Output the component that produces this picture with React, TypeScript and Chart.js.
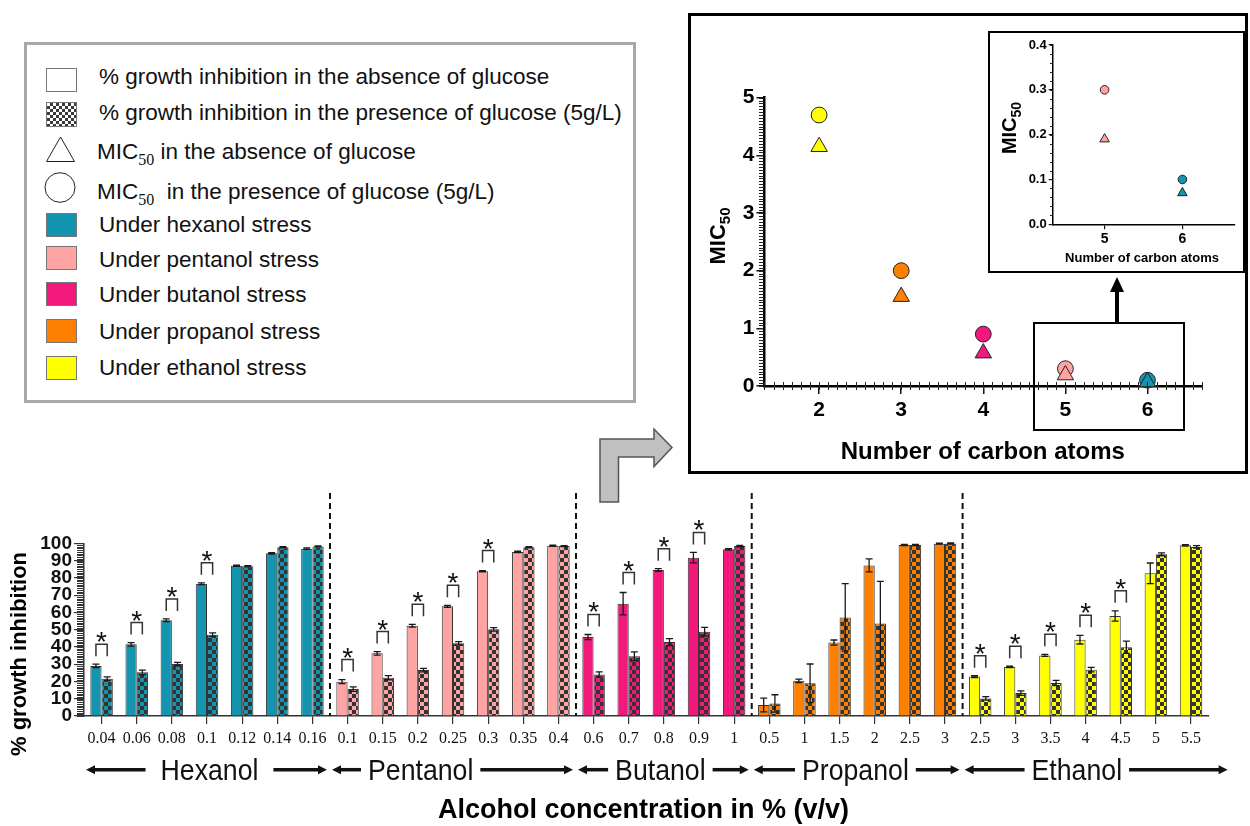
import React, { useEffect, useRef } from 'react';
import { Chart, registerables } from 'chart.js';

Chart.register(...registerables);

const SANS = "'Liberation Sans', Arial, sans-serif";
const SERIF = "'Liberation Serif', 'Times New Roman', serif";

// ---------- Bar chart data ----------
const groupNames = ['Hexanol', 'Pentanol', 'Butanol', 'Propanol', 'Ethanol'];
const groupSizes = [7, 7, 5, 6, 7];
const groupColors = ['#1395B0', '#FFA3A3', '#F2187C', '#FF8000', '#FFFF00'];
const concentrations = [
  '0.04', '0.06', '0.08', '0.1', '0.12', '0.14', '0.16',
  '0.1', '0.15', '0.2', '0.25', '0.3', '0.35', '0.4',
  '0.6', '0.7', '0.8', '0.9', '1',
  '0.5', '1', '1.5', '2', '2.5', '3',
  '2.5', '3', '3.5', '4', '4.5', '5', '5.5',
];
const inhibitionNoGlucose = [
  29, 41.5, 55.4, 76.6, 87, 94.2, 96.9,
  19.9, 36.3, 52.3, 63.5, 83.8, 95, 98.6,
  45.7, 65, 84.5, 91.7, 96.5,
  6.4, 20.4, 42.5, 87.2, 99, 99.8,
  22.8, 28.4, 35.1, 44.2, 57.9, 82.6, 98.8,
];
const errNoGlucose = [
  1, 1, 0.8, 0.5, 0.4, 0.4, 0.4,
  1.2, 1, 0.8, 0.6, 0.4, 0.4, 0.3,
  1.5, 6.5, 0.8, 3, 0.4,
  4, 1, 1.5, 3.8, 0.3, 0.3,
  0.5, 0.4, 0.6, 2.5, 3, 6, 0.4,
];
const inhibitionGlucose = [
  21.6, 25.3, 30.1, 47.1, 86.7, 97.7, 98.2,
  15.6, 22.2, 26.6, 42.1, 50.2, 97.7, 98.4,
  24.1, 34.6, 42.8, 48.8, 98.4,
  7.3, 18.9, 57.1, 53.5, 99, 99.9,
  10.2, 13.3, 19.1, 26.8, 39.8, 93.6, 97.9,
];
const errGlucose = [
  1, 1.3, 1, 1, 0.4, 0.3, 0.3,
  1.3, 1.2, 1, 1, 1, 0.3, 0.3,
  1.5, 2.5, 2, 2.5, 0.4,
  5, 11.2, 19.5, 24.5, 0.3, 0.3,
  1, 1.3, 1.5, 1.3, 3.5, 0.8, 0.7,
];
const significant = [
  1, 1, 1, 1, 0, 0, 0,
  1, 1, 1, 1, 1, 0, 0,
  1, 1, 1, 1, 0,
  0, 0, 0, 0, 0, 0,
  1, 1, 1, 1, 1, 0, 0,
];

// ---------- MIC50 data ----------
const carbonAtoms = [2, 3, 4, 5, 6];
const micNoGlucose = [4.15, 1.55, 0.57, 0.19, 0.07];
const micGlucose = [4.7, 2.0, 0.9, 0.3, 0.1];
const micColors = ['#FFFF00', '#FF8000', '#F2187C', '#FFA3A3', '#1395B0'];
const micYTicks = [0, 1, 2, 3, 4, 5];
const insetCarbonAtoms = [5, 6];
const insetNoGlucose = [0.19, 0.07];
const insetGlucose = [0.3, 0.1];
const insetColors = ['#FFA3A3', '#1395B0'];
const insetYTicks = [0, 0.1, 0.2, 0.3, 0.4];

// layout constant: where each group name sits, in category-index units
const groupLabelAt = [3.07, 9.08, 15.9, 21.45, 27.75];

function checker(color: string) {
  const c = document.createElement('canvas');
  c.width = 8;
  c.height = 8;
  const g = c.getContext('2d')!;
  g.fillStyle = color;
  g.fillRect(0, 0, 8, 8);
  g.fillStyle = '#333';
  g.fillRect(0, 0, 4, 4);
  g.fillRect(4, 4, 4, 4);
  return g.createPattern(c, 'repeat')!;
}

function hArrow(ctx: any, from: number, to: number, y: number) {
  const dir = Math.sign(to - from);
  const head = 9;
  ctx.lineWidth = 3.5;
  ctx.strokeStyle = '#111';
  ctx.fillStyle = '#111';
  ctx.beginPath();
  ctx.moveTo(from, y);
  ctx.lineTo(to - dir * head * 0.7, y);
  ctx.stroke();
  ctx.beginPath();
  ctx.moveTo(to, y);
  ctx.lineTo(to - dir * head, y - 4.5);
  ctx.lineTo(to - dir * head, y + 4.5);
  ctx.closePath();
  ctx.fill();
}

function drawMicTitle(ctx: any, cx: number, cy: number, big: number, small: number) {
  ctx.save();
  ctx.translate(cx, cy);
  ctx.rotate(-Math.PI / 2);
  ctx.fillStyle = '#000';
  ctx.textAlign = 'left';
  ctx.textBaseline = 'alphabetic';
  ctx.font = `bold ${big}px ${SANS}`;
  const w1 = ctx.measureText('MIC').width;
  ctx.font = `bold ${small}px ${SANS}`;
  const w2 = ctx.measureText('50').width;
  const total = w1 + w2;
  const base = big * 0.36;
  ctx.font = `bold ${big}px ${SANS}`;
  ctx.fillText('MIC', -total / 2, base);
  ctx.font = `bold ${small}px ${SANS}`;
  ctx.fillText('50', -total / 2 + w1, base + small * 0.35);
  ctx.restore();
}

function minorY(ctx: any, ys: any, left: number, from: number, to: number, step: number, len: number, color: string) {
  ctx.fillStyle = color;
  const n = Math.round((to - from) / step);
  for (let k = 0; k <= n; k++) {
    const py = Math.round(ys.getPixelForValue(from + k * step));
    ctx.fillRect(Math.round(left) - len, py, len, 1);
  }
}

const barDecor = {
  id: 'barDecor',
  afterDatasetsDraw(chart: any) {
    const { ctx } = chart;
    const ys = chart.scales.y;
    const m0 = chart.getDatasetMeta(0);
    const m1 = chart.getDatasetMeta(1);
    ctx.save();
    ctx.strokeStyle = '#1a1a1a';
    ctx.lineWidth = 1.3;
    const sets: any[] = [
      [m0, inhibitionNoGlucose, errNoGlucose],
      [m1, inhibitionGlucose, errGlucose],
    ];
    sets.forEach(([m, vals, errs]) => {
      m.data.forEach((bar: any, i: number) => {
        const yt = ys.getPixelForValue(vals[i] + errs[i]);
        const yb = ys.getPixelForValue(Math.max(0, vals[i] - errs[i]));
        ctx.beginPath();
        ctx.moveTo(bar.x, yt);
        ctx.lineTo(bar.x, yb);
        ctx.moveTo(bar.x - 3.5, yt);
        ctx.lineTo(bar.x + 3.5, yt);
        ctx.moveTo(bar.x - 3.5, yb);
        ctx.lineTo(bar.x + 3.5, yb);
        ctx.stroke();
      });
    });
    ctx.lineWidth = 1.5;
    ctx.strokeStyle = '#333';
    ctx.font = `28px ${SANS}`;
    ctx.fillStyle = '#111';
    ctx.textAlign = 'center';
    ctx.textBaseline = 'alphabetic';
    const mt = ctx.measureText('*');
    significant.forEach((s, i) => {
      if (!s) return;
      const b0 = m0.data[i];
      const b1 = m1.data[i];
      const top =
        Math.min(
          ys.getPixelForValue(inhibitionNoGlucose[i] + errNoGlucose[i]),
          ys.getPixelForValue(inhibitionGlucose[i] + errGlucose[i])
        ) - 20;
      ctx.beginPath();
      ctx.moveTo(b0.x, top + 12);
      ctx.lineTo(b0.x, top);
      ctx.lineTo(b1.x, top);
      ctx.lineTo(b1.x, top + 12);
      ctx.stroke();
      const baseline = top - 2 - mt.actualBoundingBoxDescent;
      ctx.fillText('*', (b0.x + b1.x) / 2, baseline);
    });
    ctx.restore();
  },
  afterDraw(chart: any) {
    const { ctx, chartArea } = chart;
    const xs = chart.scales.x;
    const ys = chart.scales.y;
    ctx.save();
    minorY(ctx, ys, chartArea.left, 0, 100, 1, 7, '#333');
    ctx.strokeStyle = '#111';
    ctx.lineWidth = 2;
    ctx.setLineDash([6, 4]);
    let idx = 0;
    for (let g = 0; g < groupSizes.length - 1; g++) {
      idx += groupSizes[g];
      const px = (xs.getPixelForValue(idx - 1) + xs.getPixelForValue(idx)) / 2;
      ctx.beginPath();
      ctx.moveTo(px, 23);
      ctx.lineTo(px, chartArea.bottom);
      ctx.stroke();
    }
    ctx.setLineDash([]);
    const p0 = xs.getPixelForValue(0);
    const step = xs.getPixelForValue(1) - p0;
    const arrowY = 299.7;
    let start = 0;
    groupSizes.forEach((n, g) => {
      const Lb = p0 + (start - 0.5) * step;
      const Rb = p0 + (start + n - 0.5) * step + (g === groupSizes.length - 1 ? 22 : 0);
      const cx = p0 + groupLabelAt[g] * step;
      ctx.font = `29px ${SANS}`;
      const sx = 0.92;
      const w = ctx.measureText(groupNames[g]).width * sx;
      ctx.save();
      ctx.translate(cx, 310.3);
      ctx.scale(sx, 1);
      ctx.fillStyle = '#111';
      ctx.textAlign = 'center';
      ctx.textBaseline = 'alphabetic';
      ctx.fillText(groupNames[g], 0, 0);
      ctx.restore();
      const gap = g === 0 ? 15 : 7;
      hArrow(ctx, cx - w / 2 - gap, Lb + 2, arrowY);
      hArrow(ctx, cx + w / 2 + gap, Rb - 3, arrowY);
      start += n;
    });
    ctx.fillStyle = '#000';
    ctx.font = `bold 27px ${SANS}`;
    ctx.textAlign = 'center';
    ctx.textBaseline = 'middle';
    ctx.fillText('Alcohol concentration in % (v/v)', 643.5, 341);
    ctx.save();
    ctx.translate(20, 184);
    ctx.rotate(-Math.PI / 2);
    ctx.font = `bold 22px ${SANS}`;
    ctx.fillText('% growth inhibition', 0, 0);
    ctx.restore();
    ctx.restore();
  },
};

function micDecor(cfg: any) {
  return {
    id: 'micDecor',
    afterDraw(chart: any) {
      const { ctx, chartArea } = chart;
      const xs = chart.scales.x;
      const ys = chart.scales.y;
      ctx.save();
      minorY(ctx, ys, chartArea.left, ys.min, ys.max, cfg.yMinor, cfg.yMinorLen, '#222');
      if (cfg.xMinor) {
        ctx.fillStyle = '#222';
        const y0 = Math.round(chartArea.bottom);
        const pts: number[] = [];
        for (let v = carbonAtoms[0]; v >= xs.min - 1e-9; v -= cfg.xMinor) pts.push(v);
        for (let v = carbonAtoms[0] + cfg.xMinor; v <= xs.max + 1e-9; v += cfg.xMinor) pts.push(v);
        pts.forEach((v) => {
          const px = Math.round(xs.getPixelForValue(v));
          ctx.fillRect(px, y0 - 4, 1, 8);
        });
      }
      ctx.fillStyle = '#000';
      ctx.font = `bold ${cfg.xTitleSize}px ${SANS}`;
      ctx.textAlign = 'center';
      ctx.textBaseline = 'middle';
      ctx.fillText('Number of carbon atoms', cfg.xTitleX, cfg.xTitleY);
      if (cfg.yBig) drawMicTitle(ctx, cfg.yTitleX, cfg.yTitleY, cfg.yBig, cfg.ySmall);
      ctx.restore();
    },
  };
}

function micChart(
  canvas: HTMLCanvasElement,
  xs: number[],
  tri: number[],
  circ: number[],
  colors: string[],
  yTicks: number[],
  o: any
) {
  return new Chart(canvas, {
    type: 'scatter',
    data: {
      datasets: [
        {
          data: xs.map((x, i) => ({ x, y: tri[i] })),
          pointStyle: 'triangle',
          pointRadius: o.triR,
          pointHoverRadius: o.triR,
          backgroundColor: colors,
          borderColor: '#222',
          borderWidth: 1,
          clip: false,
        } as any,
        {
          data: xs.map((x, i) => ({ x, y: circ[i] })),
          pointStyle: 'circle',
          pointRadius: o.circR,
          pointHoverRadius: o.circR,
          backgroundColor: colors,
          borderColor: '#222',
          borderWidth: 1,
          clip: false,
        } as any,
      ],
    },
    options: {
      animation: false,
      responsive: false,
      devicePixelRatio: 1,
      events: [],
      layout: { padding: { left: 0, right: o.padRight, top: o.padTop, bottom: 0 } },
      plugins: { legend: { display: false }, tooltip: { enabled: false } },
      scales: {
        x: {
          type: 'linear',
          min: o.xMin,
          max: o.xMax,
          afterBuildTicks: (s: any) => {
            s.ticks = xs.map((v) => ({ value: v }));
          },
          afterFit: (s: any) => {
            s.height = o.xHeight;
          },
          grid: { drawOnChartArea: false, drawTicks: true, tickLength: o.xTick, color: '#111', lineWidth: o.tickW },
          border: { display: true, color: '#000', width: o.axisW },
          ticks: { font: { family: SANS, size: o.xFont, weight: 'bold' }, color: '#000', padding: o.xPad, maxRotation: 0, autoSkip: false },
        },
        y: {
          type: 'linear',
          min: yTicks[0],
          max: yTicks[yTicks.length - 1],
          afterBuildTicks: (s: any) => {
            s.ticks = yTicks.map((v) => ({ value: v }));
          },
          afterFit: (s: any) => {
            s.width = o.yWidth;
          },
          grid: { drawOnChartArea: false, drawTicks: true, tickLength: o.yTick, color: '#111', lineWidth: o.tickW },
          border: { display: true, color: '#000', width: o.axisW },
          ticks: {
            autoSkip: false,
            font: { family: SANS, size: o.yFont, weight: 'bold', lineHeight: 1 },
            color: '#000',
            padding: 2,
            callback: (v: any) => Number(v).toFixed(o.yDecimals),
          },
        },
      },
    } as any,
    plugins: [micDecor(o.decor)],
  });
}

export default function App() {
  const barRef = useRef<HTMLCanvasElement>(null);
  const micRef = useRef<HTMLCanvasElement>(null);
  const insetRef = useRef<HTMLCanvasElement>(null);

  useEffect(() => {
    const charts: Chart[] = [];
    const groupOfBar: number[] = [];
    groupSizes.forEach((n, g) => {
      for (let k = 0; k < n; k++) groupOfBar.push(g);
    });
    const pats = groupColors.map((c) => checker(c));

    if (barRef.current) {
      charts.push(
        new Chart(barRef.current, {
          type: 'bar',
          data: {
            labels: concentrations,
            datasets: [
              {
                label: '% growth inhibition in the absence of glucose',
                data: inhibitionNoGlucose,
                backgroundColor: groupOfBar.map((g) => groupColors[g]),
                borderColor: '#333',
                borderWidth: 1,
                categoryPercentage: 0.64,
                barPercentage: 1,
              } as any,
              {
                label: '% growth inhibition in the presence of glucose (5g/L)',
                data: inhibitionGlucose,
                backgroundColor: groupOfBar.map((g) => pats[g]),
                borderColor: '#333',
                borderWidth: 1,
                categoryPercentage: 0.64,
                barPercentage: 1,
              } as any,
            ],
          },
          options: {
            animation: false,
            responsive: false,
            devicePixelRatio: 1,
            events: [],
            layout: { padding: { left: 0, right: 41.4, top: 73.3, bottom: 0 } },
            plugins: { legend: { display: false }, tooltip: { enabled: false } },
            scales: {
              x: {
                afterFit: (s: any) => {
                  s.height = 110;
                },
                grid: { display: true, drawOnChartArea: false, drawTicks: true, tickLength: 8, offset: false, color: '#333', lineWidth: 1.2 },
                border: { display: true, color: '#333', width: 1.5 },
                ticks: { font: { family: SERIF, size: 16 }, color: '#111', maxRotation: 0, minRotation: 0, autoSkip: false, padding: 5 },
              },
              y: {
                min: 0,
                max: 100,
                afterFit: (s: any) => {
                  s.width = 84;
                },
                grid: { drawOnChartArea: false, drawTicks: true, tickLength: 10, color: '#333', lineWidth: 1.2 },
                border: { display: true, color: '#333', width: 1.5 },
                ticks: {
                  stepSize: 10,
                  autoSkip: false,
                  font: { family: SANS, size: 19, weight: 'bold', lineHeight: 1 },
                  color: '#111',
                  padding: 2,
                },
              },
            },
          } as any,
          plugins: [barDecor],
        })
      );
    }

    if (micRef.current) {
      charts.push(
        micChart(micRef.current, carbonAtoms, micNoGlucose, micGlucose, micColors, micYTicks, {
          triR: 9.5,
          circR: 7.9,
          padRight: 42.8,
          padTop: 81.7,
          xMin: 4 / 3,
          xMax: 20 / 3,
          xHeight: 85,
          xTick: 8,
          xFont: 21,
          xPad: 4,
          yWidth: 73.4,
          yTick: 8,
          yFont: 21,
          yDecimals: 0,
          tickW: 1.5,
          axisW: 2.5,
          decor: {
            yMinor: 0.05,
            yMinorLen: 5,
            xMinor: 1 / 9,
            xTitleSize: 24,
            xTitleX: 291.8,
            xTitleY: 436,
            yBig: 0,
          },
        })
      );
    }

    if (insetRef.current) {
      charts.push(
        micChart(insetRef.current, insetCarbonAtoms, insetNoGlucose, insetGlucose, insetColors, insetYTicks, {
          triR: 5.5,
          circR: 4.3,
          padRight: 8.7,
          padTop: 12,
          xMin: 13 / 3,
          xMax: 20 / 3,
          xHeight: 46.7,
          xTick: 5,
          xFont: 14,
          xPad: 1,
          yWidth: 62.7,
          yTick: 4,
          yFont: 13,
          yDecimals: 1,
          tickW: 1.2,
          axisW: 1.5,
          decor: {
            yMinor: 0.02,
            yMinorLen: 3,
            xMinor: 0,
            xTitleSize: 13,
            xTitleX: 152,
            xTitleY: 225.5,
            yTitleX: 19,
            yTitleY: 95,
            yBig: 20,
            ySmall: 14,
          },
        })
      );
    }

    return () => charts.forEach((c) => c.destroy());
  }, []);

  const legendText: React.CSSProperties = {
    position: 'absolute',
    fontFamily: SANS,
    fontSize: 22.5,
    lineHeight: '26px',
    color: '#111',
    whiteSpace: 'nowrap',
  };
  const sub: React.CSSProperties = {
    fontFamily: SERIF,
    fontSize: 16,
    position: 'relative',
    top: 6,
  };
  const swatch = (top: number, bg: string) => (
    <div
      style={{
        position: 'absolute',
        left: 46,
        top,
        width: 31,
        height: 24,
        background: bg,
        border: '1px solid #777',
        boxSizing: 'border-box',
      }}
    />
  );

  return (
    <div
      style={{
        position: 'absolute',
        left: 0,
        top: 0,
        width: 1250,
        height: 826,
        background: '#fff',
        overflow: 'hidden',
      }}
    >
      {/* MIC50 panel */}
      <div
        style={{
          position: 'absolute',
          left: 688,
          top: 13,
          width: 560,
          height: 461,
          border: '3px solid #000',
          boxSizing: 'border-box',
        }}
      />
      <canvas ref={micRef} width={554} height={455} style={{ position: 'absolute', left: 691, top: 16, zIndex: 2 }} />
      <div
        style={{
          position: 'absolute',
          left: 686,
          top: 223,
          width: 64,
          height: 26,
          transform: 'rotate(-90deg)',
          transformOrigin: '50% 50%',
          fontFamily: SANS,
          fontWeight: 'bold',
          fontSize: 22,
          lineHeight: '26px',
          textAlign: 'center',
          whiteSpace: 'nowrap',
          color: '#000',
          zIndex: 6,
        }}
      >
        MIC<span style={{ fontSize: 15, position: 'relative', top: 5 }}>50</span>
      </div>
      <div
        style={{
          position: 'absolute',
          left: 988,
          top: 31,
          width: 257,
          height: 242,
          border: '2px solid #000',
          boxSizing: 'border-box',
          background: '#fff',
          zIndex: 3,
        }}
      />
      <canvas ref={insetRef} width={253} height={238} style={{ position: 'absolute', left: 990, top: 33, zIndex: 4 }} />

      {/* Legend */}
      <div
        style={{
          position: 'absolute',
          left: 24,
          top: 42,
          width: 612,
          height: 361,
          border: '3px solid #A8A8A8',
          boxSizing: 'border-box',
        }}
      />
      {swatch(68, '#fff')}
      <div
        style={{
          position: 'absolute',
          left: 46,
          top: 102,
          width: 31,
          height: 25,
          border: '1px solid #777',
          boxSizing: 'border-box',
          backgroundImage: 'repeating-conic-gradient(#3a3a3a 0% 25%, #ffffff 0% 50%)',
          backgroundSize: '6px 6px',
        }}
      />
      <svg style={{ position: 'absolute', left: 46, top: 136 }} width={30} height={27}>
        <polygon points="14.5,1 28.5,25.5 0.5,25.5" fill="#fff" stroke="#222" strokeWidth={1} />
      </svg>
      <svg style={{ position: 'absolute', left: 44, top: 172 }} width={33} height={32}>
        <ellipse cx={16} cy={15.5} rx={15} ry={14.8} fill="#fff" stroke="#222" strokeWidth={1} />
      </svg>
      {swatch(213, groupColors[0])}
      {swatch(246, groupColors[1])}
      {swatch(282, groupColors[2])}
      {swatch(319, groupColors[3])}
      {swatch(356, groupColors[4])}
      <div style={{ ...legendText, left: 99, top: 76.7 - 13 }}>% growth inhibition in the absence of glucose</div>
      <div style={{ ...legendText, left: 99, top: 113.3 - 13 }}>% growth inhibition in the presence of glucose (5g/L)</div>
      <div style={{ ...legendText, left: 97, top: 151.7 - 13 }}>
        MIC<span style={sub}>50</span> in the absence of glucose
      </div>
      <div style={{ ...legendText, left: 97, top: 191.7 - 13 }}>
        MIC<span style={sub}>50</span>&nbsp; in the presence of glucose (5g/L)
      </div>
      <div style={{ ...legendText, left: 99, top: 225 - 13 }}>Under hexanol stress</div>
      <div style={{ ...legendText, left: 99, top: 260 - 13 }}>Under pentanol stress</div>
      <div style={{ ...legendText, left: 99, top: 295 - 13 }}>Under butanol stress</div>
      <div style={{ ...legendText, left: 99, top: 331.7 - 13 }}>Under propanol stress</div>
      <div style={{ ...legendText, left: 99, top: 368.3 - 13 }}>Under ethanol stress</div>

      {/* Bar chart */}
      <canvas ref={barRef} width={1250} height={356} style={{ position: 'absolute', left: 0, top: 470 }} />

      {/* Decorations */}
      <svg
        style={{ position: 'absolute', left: 0, top: 0, pointerEvents: 'none', zIndex: 5 }}
        width={1250}
        height={826}
      >
        <polygon
          points="600,502 600,439 654,439 654,429 672,447.5 654,466.5 654,457 618.5,457 618.5,502"
          fill="#C0C0C0"
          stroke="#555"
          strokeWidth={1.5}
        />
        <rect x={1034} y={323} width={150} height={107} fill="none" stroke="#000" strokeWidth={2} />
        <line x1={1117} y1={323} x2={1117} y2={290} stroke="#000" strokeWidth={4} />
        <polygon points="1110,292 1124,292 1117,277" fill="#000" />
      </svg>
    </div>
  );
}
